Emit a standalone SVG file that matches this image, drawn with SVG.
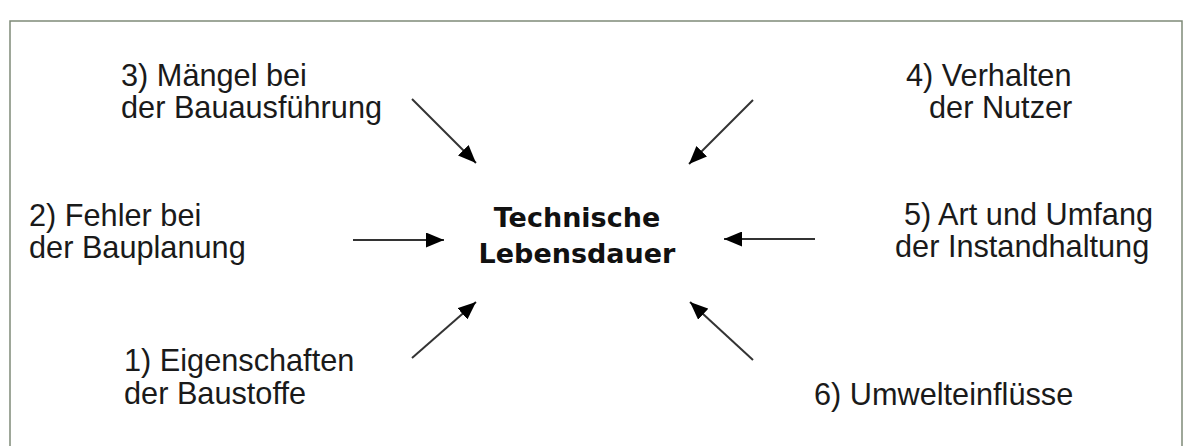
<svg xmlns="http://www.w3.org/2000/svg" width="1192" height="446" viewBox="0 0 1192 446">
<style>
.lbl{font-family:"Liberation Sans",Arial,sans-serif;font-size:30.7px;fill:#1a1a1a}
.ctr{font-family:"DejaVu Sans",Verdana,sans-serif;font-size:27px;font-weight:bold;fill:#111;text-anchor:middle}
.arr{stroke:#333;stroke-width:2;fill:none;marker-end:url(#ah)}
.frame{stroke:#7f8a78;stroke-width:1.5;fill:none}
</style>
<defs>
<marker id="ah" markerUnits="userSpaceOnUse" markerWidth="19" markerHeight="15" refX="18" refY="7.5" orient="auto">
<path d="M0,0 L18,7.5 L0,15 z" fill="#000"/>
</marker>
</defs>
<path class="frame" d="M10,446 L10,21 L1182,21 L1182,446"/>
<g id="center"><text class="ctr" x="577" y="227">Technische</text><text class="ctr" x="577" y="263">Lebensdauer</text></g>
<g id="n3"><text class="lbl" x="121" y="86">3) Mängel bei</text><text class="lbl" x="121" y="118">der Bauausführung</text></g>
<g id="n4"><text class="lbl" x="906" y="86">4) Verhalten</text><text class="lbl" x="929" y="118">der Nutzer</text></g>
<g id="n2"><text class="lbl" x="29" y="226">2) Fehler bei</text><text class="lbl" x="29" y="258">der Bauplanung</text></g>
<g id="n5"><text class="lbl" x="904" y="225">5) Art und Umfang</text><text class="lbl" x="895" y="257">der Instandhaltung</text></g>
<g id="n1"><text class="lbl" x="124" y="371">1) Eigenschaften</text><text class="lbl" x="124" y="404">der Baustoffe</text></g>
<g id="n6"><text class="lbl" x="814" y="405">6) Umwelteinflüsse</text></g>
<g id="connectors">
<line class="arr" x1="412" y1="99" x2="476" y2="163"/>
<line class="arr" x1="753" y1="100" x2="689" y2="164"/>
<line class="arr" x1="353" y1="240" x2="444" y2="240"/>
<line class="arr" x1="815" y1="239" x2="724" y2="239"/>
<line class="arr" x1="412" y1="358" x2="476" y2="302"/>
<line class="arr" x1="753" y1="360" x2="690" y2="302"/>
</g>
</svg>
